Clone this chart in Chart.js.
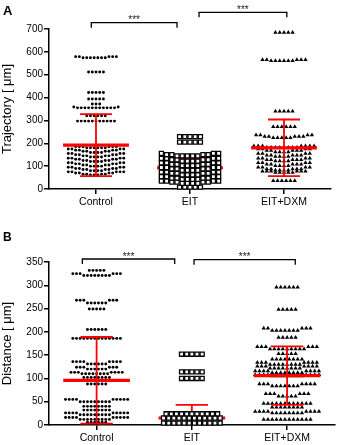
<!DOCTYPE html>
<html>
<head>
<meta charset="utf-8">
<script src="https://cdn.jsdelivr.net/npm/chart.js@4.4.0/dist/chart.umd.min.js"></script>
<style>
  html, body { margin: 0; padding: 0; background: #fff; }
  canvas { display: block; }
</style>
</head>
<body>
<canvas id="chartA" width="340" height="215"></canvas>
<canvas id="chartB" width="340" height="230"></canvas>
<script>
const categories = ['Control', 'EIT', 'EIT+DXM'];

// each entry: [value in µm, number of cells at about that value]
const trajControl = [[62,3],[65,4],[70,4],[75,5],[80,4],[85,4],[90,4],[95,4],[100,4],[105,4],[110,4],[115,4],
    [120,4],[125,4],[130,4],[135,4],[140,4],[145,4],[150,4],[155,4],[160,4],[165,4],[170,4],[175,4],
    [180,6],[185,6],[297,11],[320,6],[355,11],[359,2],[372,3],[394,5],[422,5],[512,5],[574,7],[579,5]];
const trajEIT = [[8,5],[25,4],[30,4],[35,4],[42,4],[48,4],[54,4],[62,4],[68,4],[74,4],[82,4],[88,4],[94,4],
    [102,4],[108,4],[114,4],[122,4],[128,4],[134,4],[145,5],[150,4],[156,3],[205,5],[229,5]];
const trajDXM = [[36,6],[72,5],[78,6],[82,4],[88,5],[95,4],[102,4],[108,5],[115,4],[122,4],[128,5],[135,4],
    [142,4],[148,5],[155,4],[162,4],[168,5],[175,4],[182,8],[188,7],[224,5],[230,5],[236,4],[272,6],
    [340,5],[561,6],[566,5],[685,5]];
const trajMean = [192, 93, 180];
const trajSD = [136, 42, 124];

const distControl = [[6,6],[12,9],[16,9],[22,9],[26,9],[32,8],[40,8],[50,9],[55,9],[88,6],[102,8],[110,8],[113,7],
    [120,6],[124,6],[131,6],[136,8],[186,14],[205,6],[249,5],[262,6],[268,6],[321,8],[325,6],[332,5]];
const distEIT = [[4,12],[15,12],[24,11],[100,5],[114,5],[152,5]];
const distDXM = [[12,12],[26,8],[29,8],[38,8],[46,12],[62,5],[67,6],[84,7],[88,7],[105,8],[108,8],[112,8],[116,8],
    [122,8],[126,7],[130,8],[134,7],[141,8],[153,5],[163,9],[168,6],[188,5],[203,7],[208,5],[248,5],[296,6]];
const distMean = [96, 15, 106];
const distSD = [93, 28, 63];

const sigLabels = ['***', '***'];

const SANS = "'Liberation Sans', Arial, sans-serif";

// dot-plot layout: points in the same value bin sit side by side, lowest in the middle
function spread(rows, group, bin, gapPx, pxPerCat) {
    const bins = {};
    rows.forEach(([v, n]) => {
        const k = Math.floor(v / bin);
        for (let i = 0; i < n; i++) (bins[k] = bins[k] || []).push(v);
    });
    const pts = [];
    Object.values(bins).forEach(vals => {
        vals.sort((a, b) => a - b);
        const n = vals.length;
        const slots = [];
        for (let k = 0; k < n; k++) slots.push((k - (n - 1) / 2) * gapPx);
        slots.sort((a, b) => Math.abs(a) - Math.abs(b) || a - b);
        vals.forEach((v, i) => pts.push({ x: group + slots[i] / pxPerCat, y: v }));
    });
    return pts;
}

function errorLines(means, sds, groups) {
    const meanPts = [], sdPts = [];
    groups.forEach(i => {
        const m = means[i], s = sds[i];
        meanPts.push({ x: i - 0.35, y: m }, { x: i + 0.35, y: m }, { x: i, y: null });
        sdPts.push({ x: i, y: m - s }, { x: i, y: m + s }, { x: i, y: null },
            { x: i - 0.17, y: m + s }, { x: i + 0.17, y: m + s }, { x: i, y: null },
            { x: i - 0.17, y: m - s }, { x: i + 0.17, y: m - s }, { x: i, y: null });
    });
    return [meanPts, sdPts];
}

const annotate = {
    id: 'annotate',
    afterDraw(chart, args, o) {
        const ctx = chart.ctx;
        const x = chart.scales.x;
        ctx.save();
        ctx.strokeStyle = '#000';
        ctx.lineWidth = 1.3;
        ctx.fillStyle = '#222';
        ctx.font = '10px ' + SANS;
        ctx.textAlign = 'center';
        o.brackets.forEach((b, i) => {
            const x1 = x.getPixelForValue(b.from), x2 = x.getPixelForValue(b.to);
            ctx.beginPath();
            ctx.moveTo(x1, b.y + 5);
            ctx.lineTo(x1, b.y);
            ctx.lineTo(x2, b.y);
            ctx.lineTo(x2, b.y + 5);
            ctx.stroke();
            ctx.fillText(sigLabels[i], (x1 + x2) / 2, b.y + 0.5);
        });
        ctx.textAlign = 'left';
        ctx.fillStyle = '#000';
        ctx.font = 'bold ' + o.letterSize + 'px ' + SANS;
        ctx.fillText(o.letter, 3, o.letterY);
        ctx.restore();
    }
};

function pointSet(pts, style) {
    return Object.assign({ data: pts, clip: false, pointBorderWidth: 0, pointBackgroundColor: '#000' }, style);
}

function redSet(pts, width) {
    return { data: pts, showLine: true, spanGaps: false, borderColor: '#ff0000', borderWidth: width, pointRadius: 0 };
}

function drawPanel(id, p) {
    const pxPerCat = p.plotWidth / 3;
    const [meanTop, sdTop] = errorLines(p.mean, p.sd, [0, 2]);
    const [meanEIT, sdEIT] = errorLines(p.mean, p.sd, [1]);
    const axisGrid = { drawOnChartArea: false, drawTicks: true, tickLength: 5, color: '#000', lineWidth: 1.5 };
    const axisBorder = { display: true, color: '#000', width: 1.5 };

    new Chart(document.getElementById(id), {
        type: 'scatter',
        data: {
            datasets: [
                redSet(meanTop, 3.2),
                redSet(sdTop, 1.8),
                pointSet(spread(p.groups[0], 0, p.bin, 3.7, pxPerCat), { pointStyle: 'circle', pointRadius: 1.45 }),
                pointSet(spread(p.groups[1], 1, p.bin, 5.2, pxPerCat), {
                    pointStyle: 'rect', pointRadius: 2.9, pointBackgroundColor: '#fff',
                    pointBorderColor: '#000', pointBorderWidth: 1.3
                }),
                pointSet(spread(p.groups[2], 2, p.bin, 4.3, pxPerCat), { pointStyle: 'triangle', pointRadius: 2.5 }),
                redSet(meanEIT, 3.2),
                redSet(sdEIT, 1.8)
            ]
        },
        options: {
            responsive: false,
            animation: false,
            events: [],
            layout: { padding: p.padding },
            plugins: {
                legend: { display: false },
                tooltip: { enabled: false },
                annotate: { brackets: p.brackets, letter: p.letter, letterY: p.letterY, letterSize: p.letterSize }
            },
            scales: {
                x: {
                    type: 'linear',
                    min: -0.5,
                    max: 2.5,
                    afterBuildTicks: s => { s.ticks = categories.map((c, i) => ({ value: i })); },
                    afterFit: s => { s.height = p.xHeight; },
                    ticks: {
                        callback: v => categories[v],
                        font: { family: SANS, size: 10.5 },
                        color: '#000',
                        padding: 2,
                        autoSkip: false,
                        maxRotation: 0
                    },
                    grid: axisGrid,
                    border: axisBorder
                },
                y: {
                    min: 0,
                    max: p.yMax,
                    afterFit: s => { s.width = 49; },
                    ticks: { stepSize: p.yStep, font: { family: SANS, size: 10 }, color: '#000', padding: 1 },
                    grid: axisGrid,
                    border: axisBorder,
                    title: { display: true, text: p.title, font: { family: SANS, size: 13 }, color: '#000', padding: 0 }
                }
            }
        },
        plugins: [annotate]
    });
}

drawPanel('chartA', {
    groups: [trajControl, trajEIT, trajDXM],
    mean: trajMean,
    sd: trajSD,
    bin: 20,
    yMax: 700,
    yStep: 100,
    title: 'Trajectory [ μm]',
    plotWidth: 282,
    padding: { top: 29, right: 9, bottom: 0, left: 0 },
    xHeight: 26,
    letter: 'A',
    letterY: 15,
    letterSize: 13,
    brackets: [{ from: -0.05, to: 0.862, y: 22.7 }, { from: 1.096, to: 2.03, y: 12.3 }]
});

drawPanel('chartB', {
    groups: [distControl, distEIT, distDXM],
    mean: distMean,
    sd: distSD,
    bin: 10,
    yMax: 350,
    yStep: 50,
    title: 'Distance [ μm]',
    plotWidth: 289,
    padding: { top: 47, right: 2, bottom: 0, left: 0 },
    xHeight: 20,
    letter: 'B',
    letterY: 26,
    letterSize: 12,
    brackets: [{ from: -0.15, to: 0.82, y: 44 }, { from: 1.023, to: 2.086, y: 44.7 }]
});
</script>
</body>
</html>
